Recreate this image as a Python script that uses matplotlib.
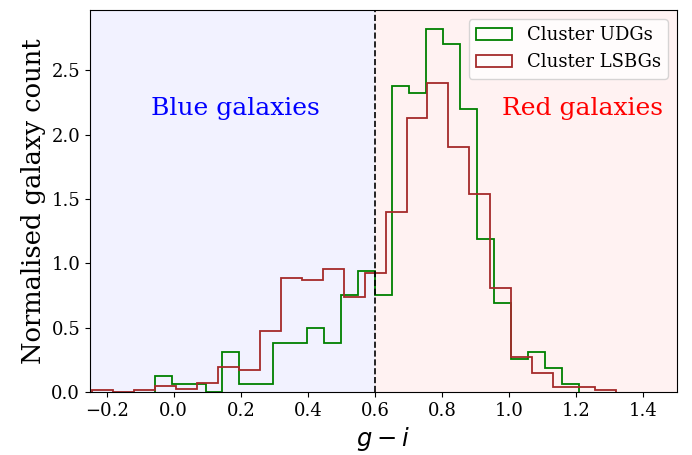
import numpy as np
import matplotlib
matplotlib.use('Agg')
import matplotlib.pyplot as plt

plt.rcParams['font.family'] = 'serif'
plt.rcParams['font.serif'] = ['DejaVu Serif']

# bin edges (25 bins each)
udg_edges = np.linspace(-0.057, 1.207, 26)
lsbg_edges = np.linspace(-0.2435, 1.319, 26)

# normalised heights per bin
udg_heights = [0.127, 0.062, 0.062, 0.0, 0.313, 0.062, 0.062, 0.378, 0.378, 0.50,
               0.378, 0.753, 0.942, 0.753, 2.38, 2.32, 2.82, 2.70, 2.197, 1.19,
               0.689, 0.254, 0.313, 0.19, 0.064]
lsbg_heights = [0.013, 0.0, 0.013, 0.049, 0.026, 0.07, 0.197, 0.171, 0.476, 0.883,
                0.870, 0.955, 0.740, 0.921, 1.40, 2.13, 2.40, 1.905, 1.535, 0.81,
                0.268, 0.150, 0.037, 0.037, 0.012]

split = 0.6

fig, ax = plt.subplots(figsize=(6.92, 4.55), dpi=100)
fig.subplots_adjust(left=0.130, right=0.978, top=0.978, bottom=0.1385)

ax.axvspan(-0.25, split, color='blue', alpha=0.05, lw=0)
ax.axvspan(split, 1.5, color='red', alpha=0.05, lw=0)

ax.hist(udg_edges[:-1], bins=udg_edges, weights=udg_heights, histtype='step',
        color='green', lw=1.3, label='Cluster UDGs')
ax.hist(lsbg_edges[:-1], bins=lsbg_edges, weights=lsbg_heights, histtype='step',
        color='brown', lw=1.3, label='Cluster LSBGs')

ax.axvline(split, color='black', ls='--', lw=1.2)

ax.text(0.185, 2.2, 'Blue galaxies', color='blue', fontsize=18, ha='center', va='center')
ax.text(1.218, 2.2, 'Red galaxies', color='red', fontsize=18, ha='center', va='center')

ax.set_xlim(-0.25, 1.5)
ax.set_ylim(0, 2.967)
ax.set_xticks([-0.2, 0.0, 0.2, 0.4, 0.6, 0.8, 1.0, 1.2, 1.4])
ax.set_yticks([0.0, 0.5, 1.0, 1.5, 2.0, 2.5])
ax.tick_params(labelsize=13)
ax.set_xlabel('$g-i$', fontsize=17.5)
ax.set_ylabel('Normalised galaxy count', fontsize=18.5)
ax.legend(loc='upper right', fontsize=13)

fig.savefig('out.png', dpi=100)
